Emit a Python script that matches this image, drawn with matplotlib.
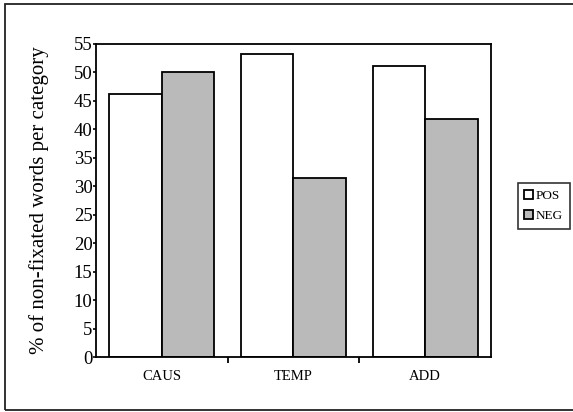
import matplotlib
matplotlib.use("Agg")
import matplotlib.pyplot as plt
import numpy as np
from matplotlib.patches import Rectangle

categories = ["CAUS", "TEMP", "ADD"]
pos_values = [46.2, 53.3, 51.2]
neg_values = [50.0, 31.5, 41.9]
yticks = list(range(0, 56, 5))

plt.rcParams['font.family'] = ['Liberation Serif', 'DejaVu Serif']

W, H = 573, 412
fig = plt.figure(figsize=(W/100, H/100), dpi=100)
# outer frame
fig.patches.append(Rectangle((5/W, 2/H), 1.2, (408-2)/H, transform=fig.transFigure,
                             fill=False, edgecolor='#222222', linewidth=1.3))

ax = fig.add_axes([96/W, 1-357/H, (491-96)/W, (357-44)/H])
x = np.arange(len(categories))
w = 0.4
ax.bar(x - w/2, pos_values, w, color='white', edgecolor='black', linewidth=1.3, label='POS')
ax.bar(x + w/2, neg_values, w, color='#bababa', edgecolor='black', linewidth=1.3, label='NEG')
ax.set_xlim(-0.5, 2.5)
ax.set_ylim(0, 55)
ax.set_yticks(yticks)
ax.set_yticklabels([str(t) for t in yticks], fontsize=13.5)
ax.set_xticks([0.5, 1.5], minor=False)
ax.set_xticklabels([])
ax.set_xticks(x, minor=True)
ax.set_xticklabels(categories, minor=True, fontsize=10.5)
ax.tick_params(axis='x', which='major', length=4, width=1.3, direction='out')
ax.tick_params(axis='x', which='minor', length=0, pad=9)
ax.tick_params(axis='y', length=2, width=1.2, pad=0.5)
for s in ax.spines.values():
    s.set_linewidth(1.3)
ax.set_ylabel('% of non-fixated words per category', fontsize=15)
ax.yaxis.set_label_coords((49 - 96) / (491 - 96), 0.5)

leg = fig.legend(loc='center left', bbox_to_anchor=(511/W, 1-206/H), fontsize=9.5,
                 frameon=True, fancybox=False, edgecolor='black', handlelength=0.7,
                 handleheight=0.7, handletextpad=0.2, borderpad=0.5, labelspacing=0.6)
leg.get_frame().set_linewidth(1.2)

fig.savefig('out.png', dpi=100)
